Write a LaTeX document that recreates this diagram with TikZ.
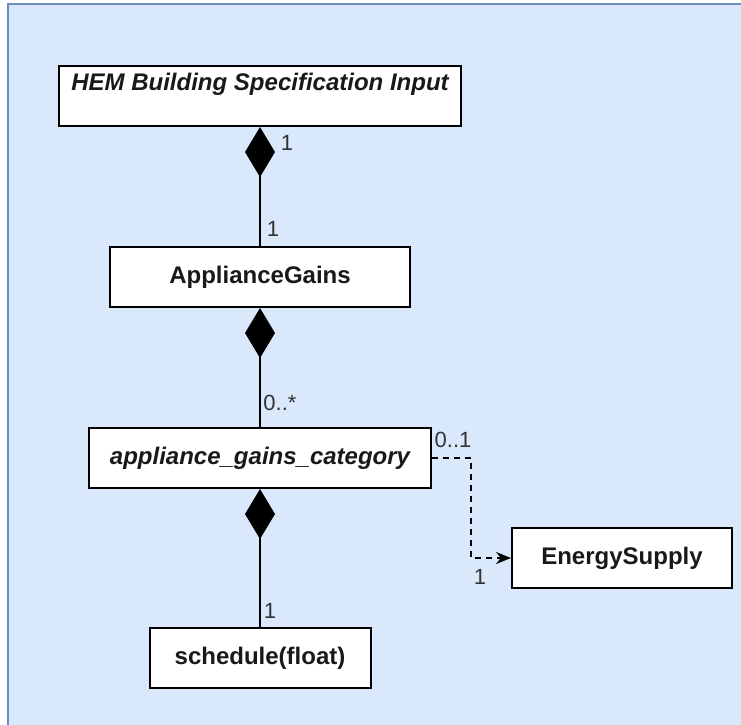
\documentclass[tikz,border=0pt]{standalone}
\usepackage{fontspec}
\setmainfont{Liberation Sans}
\usetikzlibrary{arrows.meta}
\definecolor{bgfill}{HTML}{DAE8FC}
\definecolor{bgline}{HTML}{6C8EBF}
\definecolor{lbl}{HTML}{333333}
\tikzset{
  cls/.style={draw=black, fill=white, line width=2pt, inner sep=0pt, minimum height=60pt,
              anchor=north, font=\fontsize{24}{28}\selectfont\bfseries, text=black!90},
  mult/.style={font=\fontsize{22}{26}\selectfont, text=lbl, inner sep=0pt},
  comp/.style={line width=2pt, {Diamond[length=50pt,width=30pt,fill=black]}-},
  dep/.style={line width=2pt, dash pattern=on 6pt off 5pt, -{Stealth[length=15pt,width=12pt]}},
}
\begin{document}
\begin{tikzpicture}[x=1pt,y=-1pt]
  \useasboundingbox (0,0) rectangle (741,724);
  \path[fill=bgfill, draw=bgline, line width=2pt] (8,4) rectangle (790,780);

  \node[cls, minimum width=402pt, text height=24pt, text depth=36pt] (hem) at (260,65)
    {\itshape HEM Building Specification Input};
  \node[cls, minimum width=300pt] (ag) at (260,246) {ApplianceGains};
  \node[cls, minimum width=342pt] (agc) at (260,427) {\itshape appliance\_gains\_category};
  \node[cls, minimum width=221pt] (sched) at (260,627) {schedule(float)};
  \node[cls, minimum width=220pt] (es) at (622,527) {EnergySupply};

  \draw[comp] (hem.south) -- (ag.north);
  \draw[comp] (ag.south) -- (agc.north);
  \draw[comp] (agc.south) -- (sched.north);
  \draw[dep] (agc.east) -- ++(39,0) |- (es.west);

  \node[mult] (m1) at (287,143) {1};
  \node[mult] (m2) at (273,229) {1};
  \node[mult] (m3) at (280,403) {0..*};
  \node[mult] (m4) at (453,440) {0..1};
  \node[mult] (m5) at (480,577) {1};
  \node[mult] (m6) at (270,611) {1};
\end{tikzpicture}
\end{document}
